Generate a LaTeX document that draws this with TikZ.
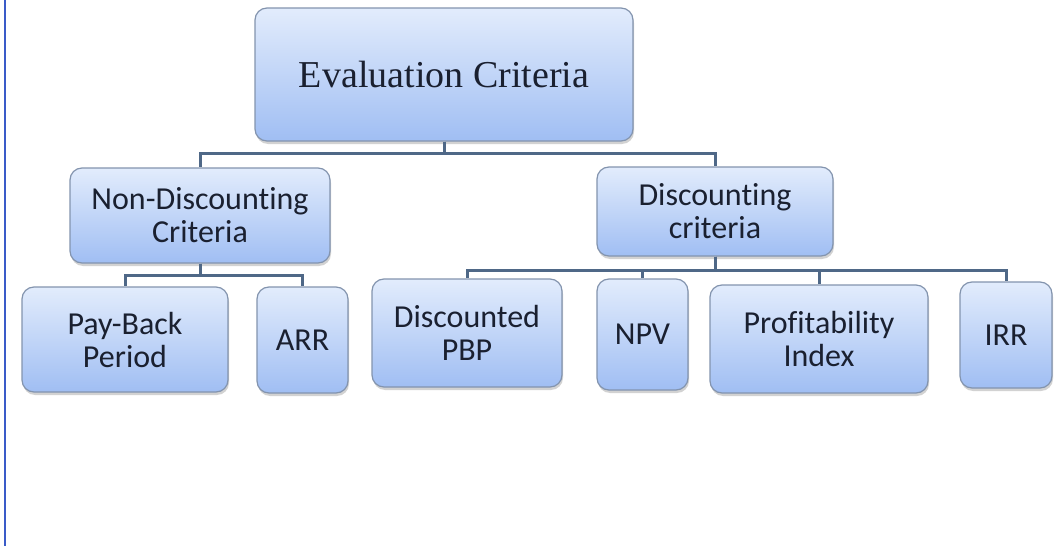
\documentclass[tikz,border=0pt]{standalone}
\usepackage{fontspec}
\setmainfont{Carlito}[Ligatures = NoCommon]
\newfontfamily\titlefont{Liberation Serif}
\usetikzlibrary{shadows}
\definecolor{boxtop}{HTML}{E2ECFC}
\definecolor{boxbottom}{HTML}{A0BEF3}
\definecolor{boxline}{HTML}{8394AE}
\definecolor{linkcolor}{HTML}{4F6887}
\definecolor{framecolor}{HTML}{3A5BC8}
\definecolor{textcolor}{HTML}{1A2030}

\begin{document}
\begin{tikzpicture}[x = 0.5pt, y = -0.5pt,
    box/.style = {draw = boxline, line width = 0.6pt, rounded corners = 6pt,
      top color = boxtop, bottom color = boxbottom, align = center,
      inner sep = 0pt, text = textcolor,
      font = \fontsize{16}{16.5}\selectfont,
      drop shadow = {opacity = 0.35, shadow xshift = 0.5pt, shadow yshift = -1.5pt}},
    link/.style = {draw = linkcolor, line width = 1.5pt}]
    \useasboundingbox (0, 0) rectangle (1057, 546);
    \fill[white] (0, 0) rectangle (1057, 546);
    \draw[framecolor, line width = 1.2pt] (5, 0) -- (5, 546);
    \node[box, minimum width = 189pt, minimum height = 66.5pt,
      font = \titlefont\fontsize{19}{22}\selectfont] (evaluation criteria) at (444, 74.5) {Evaluation Criteria};
    \node[box, minimum width = 130pt, minimum height = 47.5pt] (non-discounting) at (200, 215.5) {Non-Discounting \\ Criteria};
    \node[box, minimum width = 118pt, minimum height = 44.5pt] (discounting) at (715, 211.5) {Discounting \\ criteria};
    \draw[link] (evaluation criteria.south) -- ++(0, 12) -| (non-discounting.north);
    \draw[link] (evaluation criteria.south) -- ++(0, 12) -| (discounting.north);
    \node[box, minimum width = 103pt, minimum height = 52.5pt] (pay-back) at (125, 339.5) {Pay-Back \\ Period};
    \node[box, minimum width = 45.5pt, minimum height = 53pt] (arr) at (302.5, 340) {ARR};
    \draw[link] (non-discounting.south) -- ++(0, 12) -| (pay-back.north);
    \draw[link] (non-discounting.south) -- ++(0, 12) -| (arr.north);
    \node[box, minimum width = 95pt, minimum height = 54pt] (discounted pbp) at (467, 333) {Discounted \\ PBP};
    \node[box, minimum width = 45.5pt, minimum height = 55.5pt] (npv) at (642.5, 334.5) {NPV};
    \node[box, minimum width = 109pt, minimum height = 54pt] (profitability index) at (819, 339) {Profitability \\ Index};
    \node[box, minimum width = 46pt, minimum height = 53pt] (irr) at (1006, 335) {IRR};
    \draw[link] (discounting.south) -- ++(0, 14) -| (discounted pbp.north);
    \draw[link] (discounting.south) -- ++(0, 14) -| (npv.north);
    \draw[link] (discounting.south) -- ++(0, 14) -| (profitability index.north);
    \draw[link] (discounting.south) -- ++(0, 14) -| (irr.north);
  \end{tikzpicture}
\end{document}
